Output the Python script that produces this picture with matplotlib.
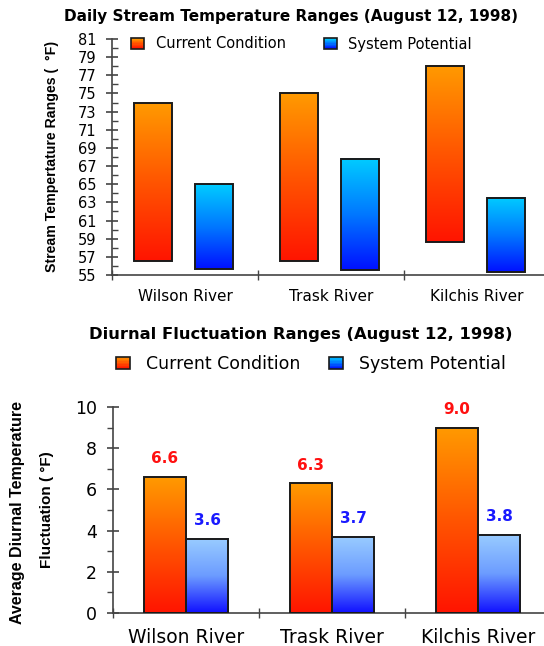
import numpy as np
import matplotlib.pyplot as plt
from matplotlib.colors import LinearSegmentedColormap
from matplotlib.legend_handler import HandlerBase
from matplotlib.patches import Rectangle, Patch

# Datos
rivers = ["Wilson River", "Trask River", "Kilchis River"]

# rangos diarios (°F): minimo / maximo
current_low = [56.5, 56.5, 58.6]
current_high = [73.9, 75.0, 78.0]
potential_low = [55.7, 55.5, 55.3]
potential_high = [65.0, 67.8, 63.5]

# fluctuacion diurna media (°F)
current_fluct = [6.6, 6.3, 9.0]
potential_fluct = [3.6, 3.7, 3.8]

plt.rcParams['font.family'] = 'DejaVu Sans'
AX_COLOR = '#444444'
EDGE = '#1a1a1a'

cmap_cur = LinearSegmentedColormap.from_list("cur", ["#ff1400", "#ff5500", "#ff9a00"])
cmap_pot1 = LinearSegmentedColormap.from_list("pot1", ["#0010ff", "#0078ff", "#00ccff"])
cmap_pot2 = LinearSegmentedColormap.from_list("pot2", ["#1010ff", "#6c9cff", "#99ccff"])
grad = np.linspace(0, 1, 256).reshape(-1, 1)


def gradient_bars(ax, x, heights, bottoms, width, cmap):
    bars = ax.bar(x, heights, width, bottom=bottoms, facecolor='none',
                  edgecolor=EDGE, linewidth=1.4, zorder=3)
    for b in bars:
        x0, y0 = b.get_x(), b.get_y()
        ax.imshow(grad, cmap=cmap, origin='lower', aspect='auto', zorder=2,
                  extent=[x0, x0 + b.get_width(), y0, y0 + b.get_height()])
    return bars


class GradientHandler(HandlerBase):
    def __init__(self, cmap):
        super().__init__()
        self.cmap = cmap

    def create_artists(self, legend, orig_handle, xdescent, ydescent,
                       width, height, fontsize, trans):
        n = 8
        arts = []
        for i in range(n):
            arts.append(Rectangle((-xdescent, -ydescent + height * i / n), width, height / n,
                                  facecolor=self.cmap((i + 0.5) / n), edgecolor='none',
                                  transform=trans))
        arts.append(Rectangle((-xdescent, -ydescent), width, height, facecolor='none',
                              edgecolor=EDGE, lw=1.2, transform=trans))
        return arts


def style_axes(ax):
    for s in ['top', 'right']:
        ax.spines[s].set_visible(False)
    for s in ['left', 'bottom']:
        ax.spines[s].set_color(AX_COLOR)
        ax.spines[s].set_linewidth(1.2)
    ax.set_xticks([0, 1, 2], rivers)
    ax.set_xticks([-0.5, 0.5, 1.5], minor=True)
    ax.tick_params(axis='x', which='major', length=0)
    ax.tick_params(axis='x', which='minor', length=7, direction='inout', color=AX_COLOR, width=1)
    ax.tick_params(axis='y', which='major', direction='inout', color=AX_COLOR, width=1.2)
    ax.tick_params(axis='y', which='minor', direction='in', color=AX_COLOR, width=1)


fig = plt.figure(figsize=(5.44, 6.46), dpi=100)
x = np.arange(len(rivers))

# ---- Grafico superior ----
ax1 = fig.add_axes([112 / 544, 1 - 275 / 646, 432 / 544, 236 / 646])
gradient_bars(ax1, x - 0.22, np.subtract(current_high, current_low), current_low, 0.26, cmap_cur)
gradient_bars(ax1, x + 0.2, np.subtract(potential_high, potential_low), potential_low, 0.26, cmap_pot1)
ax1.set_xlim(-0.5, -0.5 + 432 / 146)
ax1.set_ylim(55, 81)
ax1.set_yticks(np.arange(55, 82, 2))
ax1.set_yticks(np.arange(55, 82, 1), minor=True)
style_axes(ax1)
ax1.tick_params(axis='y', which='major', length=8, pad=7, labelsize=10.5)
ax1.tick_params(axis='y', which='minor', length=4)
ax1.tick_params(axis='x', which='major', pad=10, labelsize=11)

h_cur = Patch(label="Current Condition")
h_pot1 = Patch(label="System Potential")
fig.legend(handles=[h_cur, h_pot1], loc='center left', bbox_to_anchor=(131 / 544, 1 - 44 / 646),
           ncol=2, frameon=False, fontsize=10.5, borderpad=0, borderaxespad=0,
           handlelength=0.9, handleheight=0.7, handletextpad=0.8, columnspacing=2.6,
           handler_map={h_cur: GradientHandler(cmap_cur), h_pot1: GradientHandler(cmap_pot1)})

fig.text(291 / 544, 1 - 17 / 646, "Daily Stream Temperature Ranges (August 12, 1998)",
         ha='center', va='center', fontsize=11, fontweight='bold')
fig.text(52 / 544, 1 - 156 / 646, "Stream Tempertature Ranges (  °F)", rotation=90,
         ha='center', va='center', fontsize=10.2, fontweight='bold', family='Liberation Sans')

# ---- Grafico inferior ----
ax2 = fig.add_axes([113 / 544, 1 - 613 / 646, 431 / 544, 206 / 646])
gradient_bars(ax2, x - 0.144, current_fluct, 0, 0.288, cmap_cur)
gradient_bars(ax2, x + 0.144, potential_fluct, 0, 0.288, cmap_pot2)
ax2.set_xlim(-0.5, -0.5 + 431 / 146)
ax2.set_ylim(0, 10)
ax2.set_yticks(np.arange(0, 11, 2))
ax2.set_yticks(np.arange(0, 11, 1), minor=True)
style_axes(ax2)
ax2.tick_params(axis='y', which='major', length=9, pad=7, labelsize=12.5)
ax2.tick_params(axis='y', which='minor', length=4, direction='out')
ax2.tick_params(axis='x', which='major', pad=11, labelsize=13.5)

for xi, v in zip(x - 0.144, current_fluct):
    ax2.annotate(f"{v:.1f}", (xi, v), xytext=(0, 13), textcoords='offset points',
                 ha='center', va='center', color='#ff1010', fontsize=11,
                 fontweight='bold', annotation_clip=False)
for xi, v in zip(x + 0.144, potential_fluct):
    ax2.annotate(f"{v:.1f}", (xi, v), xytext=(0, 13), textcoords='offset points',
                 ha='center', va='center', color='#1a1aff', fontsize=11,
                 fontweight='bold', annotation_clip=False)

h_cur2 = Patch(label="Current Condition")
h_pot2 = Patch(label="System Potential")
fig.legend(handles=[h_cur2, h_pot2], loc='center left', bbox_to_anchor=(116 / 544, 1 - 364 / 646),
           ncol=2, frameon=False, fontsize=12.5, borderpad=0, borderaxespad=0,
           handlelength=0.8, handleheight=0.7, handletextpad=0.9, columnspacing=1.7,
           handler_map={h_cur2: GradientHandler(cmap_cur), h_pot2: GradientHandler(cmap_pot1)})

fig.text(301 / 544, 1 - 335 / 646, "Diurnal Fluctuation Ranges (August 12, 1998)",
         ha='center', va='center', fontsize=11.8, fontweight='bold')
fig.text(18 / 544, 1 - 513 / 646, "Average Diurnal Temperature", rotation=90,
         ha='center', va='center', fontsize=11.5, fontweight='bold', family='Liberation Sans')
fig.text(47 / 544, 1 - 510 / 646, "Fluctuation ( °F)", rotation=90,
         ha='center', va='center', fontsize=11, fontweight='bold', family='Liberation Sans')

fig.savefig("out.png", dpi=100)
